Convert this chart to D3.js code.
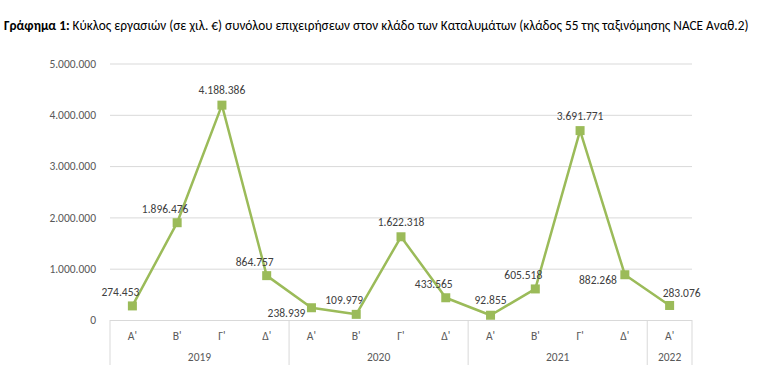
<!DOCTYPE html>
<html>
    <head>
        <meta charset="utf-8">
        <script src="https://d3js.org/d3.v7.min.js"></script>
        <style>
            body { margin: 0; background: #fff; }
            text { font-family: Carlito, "Liberation Sans Narrow", "Open Sans", sans-serif; }
        </style>
    </head>
    <body>
        <svg width="768" height="387"></svg>
        <script>
            // δεδομένα
            const quarters = ["Α'", "Β'", "Γ'", "Δ'", "Α'", "Β'", "Γ'", "Δ'", "Α'", "Β'", "Γ'", "Δ'", "Α'"];
            const years = ["2019", "2019", "2019", "2019", "2020", "2020", "2020", "2020", "2021", "2021", "2021", "2021", "2022"];
            const values = [274453, 1896476, 4188386, 864757, 238939, 109979, 1622318, 433565, 92855, 605518, 3691771, 882268, 283076];
            const yTicks = [0, 1000000, 2000000, 3000000, 4000000, 5000000];
            // θέση ετικέτας για κάθε σημείο
            const labelPlace = ["ul", "ul", "u", "ul", "dl", "ul", "u", "ul", "u", "ul", "u", "l", "ur"];

            const svg = d3.select("svg"),
                margin = { top: 63.5, right: 76, bottom: 67, left: 110 },
                width = +svg.attr("width") - margin.left - margin.right,
                height = +svg.attr("height") - margin.top - margin.bottom;

            const fmt = d3.formatLocale({ decimal: ",", thousands: ".", grouping: [3], currency: ["", "€"] }).format(",d");

            // τίτλος
            const title = svg.append("text").attr("x", 4).attr("y", 30)
                .style("font-size", "13.3px").attr("fill", "#000");
            title.append("tspan").style("font-weight", "bold").text("Γράφημα 1:");
            title.append("tspan").text(" Κύκλος εργασιών (σε χιλ. €) συνόλου επιχειρήσεων στον κλάδο των Καταλυμάτων (κλάδος 55 της ταξινόμησης NACE Αναθ.2)");

            const g = svg.append("g").attr("transform", `translate(${margin.left},${margin.top})`);

            const x = d3.scaleBand().domain(d3.range(values.length)).range([0, width]);
            const y = d3.scaleLinear().domain([0, 5000000]).range([height, 0]);

            // γραμμές πλέγματος
            g.append("g")
                .call(d3.axisLeft(y).tickValues(yTicks).tickSize(-width).tickFormat(fmt).tickPadding(14))
                .call((a) => a.select(".domain").remove())
                .call((a) => a.selectAll("line").attr("stroke", "#d9d9d9").attr("stroke-width", 1))
                .call((a) => a.selectAll("text").attr("fill", "#595959").style("font-size", "11.5px"));

            // άξονας κατηγοριών
            const xa = g.append("g").attr("transform", `translate(0,${height})`);
            xa.selectAll("text.q").data(quarters).join("text")
                .attr("x", (d, i) => x(i) + x.bandwidth() / 2)
                .attr("y", 20)
                .attr("text-anchor", "middle")
                .attr("fill", "#595959")
                .style("font-size", "11.5px")
                .text((d) => d);

            const groups = d3.groups(years.map((yr, i) => ({ yr, i })), (d) => d.yr);
            groups.forEach(([yr, items]) => {
                const x0 = x(items[0].i), x1 = x(items[items.length - 1].i) + x.bandwidth();
                xa.append("text")
                    .attr("x", (x0 + x1) / 2).attr("y", 41)
                    .attr("text-anchor", "middle").attr("fill", "#595959")
                    .style("font-size", "11.5px").text(yr);
            });
            const seps = [0].concat(groups.map(([yr, items]) => x(items[items.length - 1].i) + x.bandwidth()));
            xa.selectAll("line.sep").data(seps).join("line")
                .attr("x1", (d) => d).attr("x2", (d) => d)
                .attr("y1", 0).attr("y2", 45)
                .attr("stroke", "#d9d9d9");

            // γραμμή
            const line = d3.line()
                .x((d, i) => x(i) + x.bandwidth() / 2)
                .y((d) => y(d));
            g.append("path").datum(values)
                .attr("fill", "none").attr("stroke", "#9bbb59")
                .attr("stroke-width", 2.5).attr("stroke-linejoin", "round")
                .attr("d", line);

            g.selectAll("rect.m").data(values).join("rect")
                .attr("x", (d, i) => x(i) + x.bandwidth() / 2 - 4.5)
                .attr("y", (d) => y(d) - 4.5)
                .attr("width", 9).attr("height", 9)
                .attr("fill", "#9bbb59");

            // ετικέτες τιμών
            const off = {
                u: [0, -11, "middle"],
                ul: [-12, -10, "middle"],
                ur: [12, -8, "middle"],
                l: [-8, 9, "end"],
                dl: [-6, 9, "end"]
            };
            g.selectAll("text.lab").data(values).join("text")
                .attr("x", (d, i) => x(i) + x.bandwidth() / 2 + off[labelPlace[i]][0])
                .attr("y", (d, i) => y(d) + off[labelPlace[i]][1])
                .attr("text-anchor", (d, i) => off[labelPlace[i]][2])
                .attr("fill", "#404040")
                .style("font-size", "11.5px")
                .text((d) => fmt(d));
        </script>
    </body>
</html>
